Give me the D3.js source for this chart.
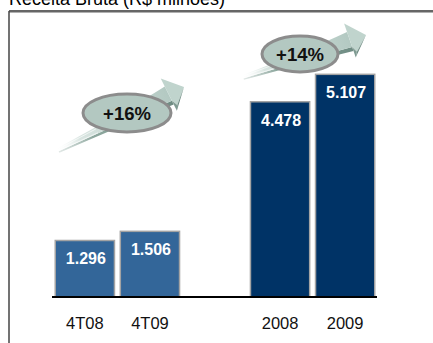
<!DOCTYPE html>
<html>
<head>
<meta charset="utf-8">
<script src="https://cdn.jsdelivr.net/npm/d3@7"></script>
<style>
  html, body { margin: 0; padding: 0; background: #fff; }
  svg { display: block; }
</style>
</head>
<body>
<svg id="chart" width="433" height="343"></svg>
<script>
// Receita Bruta (R$ milhões) — quarterly and yearly comparison
const categories = ["4T08", "4T09", "2008", "2009"];
const values = [1.296, 1.506, 4.478, 5.107];
const valueLabels = ["1.296", "1.506", "4.478", "5.107"];
const groups = ["quarter", "quarter", "year", "year"];
const growthLabels = ["+16%", "+14%"];

const W = 433, H = 343;
const svg = d3.select("#chart");
const defs = svg.append("defs");

// Slot layout: an empty slot separates the quarter pair from the year pair
const slots = ["4T08", "4T09", "_gap", "2008", "2009"];
const x = d3.scaleBand().domain(slots).range([52, 378]).paddingInner(0.09).paddingOuter(0.05);
const baseY = 297;
const y = d3.scaleLinear().domain([0, 6]).range([baseY, baseY - 6 * 43.6]);

const fillFor = { quarter: "#336699", year: "#003366" };

// Title (partially above the frame)
svg.append("text")
  .attr("x", 9).attr("y", 5)
  .attr("font-family", "Arial, 'Liberation Sans', sans-serif")
  .attr("font-size", 18)
  .attr("fill", "#000")
  .text("Receita Bruta (R$ milhões)");

// Frame: top and left edges
svg.append("line").attr("x1", 9).attr("x2", W).attr("y1", 12.5).attr("y2", 12.5)
  .attr("stroke", "#b0b0b0").attr("stroke-width", 1);
svg.append("line").attr("x1", 9).attr("x2", W).attr("y1", 11).attr("y2", 11)
  .attr("stroke", "#333").attr("stroke-width", 1.5);
svg.append("line").attr("x1", 9).attr("x2", 9).attr("y1", 11).attr("y2", H)
  .attr("stroke", "#444").attr("stroke-width", 1.5);

// Bars
const data = categories.map((c, i) => ({ c, v: values[i], label: valueLabels[i], g: groups[i] }));
svg.append("g").selectAll("rect").data(data).join("rect")
  .attr("x", d => x(d.c))
  .attr("y", d => y(d.v))
  .attr("width", x.bandwidth())
  .attr("height", d => baseY - y(d.v))
  .attr("fill", d => fillFor[d.g])
  .attr("stroke", "#a3a3a3")
  .attr("stroke-width", 1.5);

// Value labels inside bars
svg.append("g").selectAll("text").data(data).join("text")
  .attr("x", d => x(d.c) + x.bandwidth() / 2 + 1)
  .attr("y", d => y(d.v) + 24)
  .attr("text-anchor", "middle")
  .attr("font-family", "Arial, 'Liberation Sans', sans-serif")
  .attr("font-weight", "bold")
  .attr("font-size", 16)
  .attr("fill", "#fff")
  .text(d => d.label);

// Baseline
svg.append("line").attr("x1", 52).attr("x2", 377).attr("y1", baseY).attr("y2", baseY)
  .attr("stroke", "#000").attr("stroke-width", 2);

// Category labels
svg.append("g").selectAll("text").data(data).join("text")
  .attr("x", d => x(d.c) + x.bandwidth() / 2)
  .attr("y", 329)
  .attr("text-anchor", "middle")
  .attr("font-family", "Arial, 'Liberation Sans', sans-serif")
  .attr("font-size", 16.5)
  .attr("fill", "#111")
  .text(d => d.c);

// Growth arrows
const shaftGrad = defs.append("linearGradient").attr("id", "shaft")
  .attr("x1", 0).attr("x2", 1).attr("y1", 0).attr("y2", 0);
shaftGrad.append("stop").attr("offset", 0).attr("stop-color", "#ffffff").attr("stop-opacity", 0.2);
shaftGrad.append("stop").attr("offset", 0.2).attr("stop-color", "#d9e5e1");
shaftGrad.append("stop").attr("offset", 1).attr("stop-color", "#b3c9c2");

const shadeGrad = defs.append("linearGradient").attr("id", "shade")
  .attr("x1", 0).attr("x2", 1).attr("y1", 0).attr("y2", 0);
shadeGrad.append("stop").attr("offset", 0).attr("stop-color", "#9fb5ae").attr("stop-opacity", 0.3);
shadeGrad.append("stop").attr("offset", 0.3).attr("stop-color", "#8ea89f");
shadeGrad.append("stop").attr("offset", 1).attr("stop-color", "#6f8c83");

function drawArrow(tail, tip) {
  const dx = tip[0] - tail[0], dy = tip[1] - tail[1];
  const L = Math.hypot(dx, dy);
  const ang = Math.atan2(dy, dx) * 180 / Math.PI;
  const hl = 17, hw = 18, nk = L - hl;
  const g = svg.append("g").attr("transform", `translate(${tail[0]},${tail[1]}) rotate(${ang})`);
  // lower shaded edge
  g.append("path")
    .attr("d", `M0,1.5 Q${nk * 0.6},4 ${nk},7 L${nk},11 Q${nk * 0.6},7 0,3 Z`)
    .attr("fill", "url(#shade)");
  // shaft
  g.append("path")
    .attr("d", `M0,-2 Q${nk * 0.6},-4 ${nk},-9 L${nk},7 Q${nk * 0.6},4 0,1.5 Z`)
    .attr("fill", "url(#shaft)");
  // streaks near the tail
  [-0.8, 1].forEach(o => {
    g.append("line").attr("x1", 0).attr("y1", o).attr("x2", nk * 0.35).attr("y2", o * 2.4)
      .attr("stroke", "#ffffff").attr("stroke-width", 0.7).attr("stroke-opacity", 0.8);
  });
  // head: light face and dark edge faces
  g.append("path")
    .attr("d", `M${nk},${-hw} L${L},0 L${nk + 3},${hw - 5} L${nk},7 L${nk},-9 Z`)
    .attr("fill", "#c0d4cd");
  g.append("path")
    .attr("d", `M${L},0 L${nk},${hw} L${nk + 3},${hw - 5} Z`)
    .attr("fill", "#6d8a81");
  g.append("path")
    .attr("d", `M${nk},7 L${nk + 3},${hw - 5} L${nk},${hw} Z`)
    .attr("fill", "#7f9b92");
}

drawArrow([58, 150], [184, 87]);
drawArrow([243, 77], [366, 35]);

// Growth ellipses
const bubbles = [
  { cx: 127, cy: 113, rx: 44, ry: 19, label: growthLabels[0] },
  { cx: 300, cy: 54, rx: 38, ry: 18, label: growthLabels[1] }
];
const bg = svg.append("g").selectAll("g").data(bubbles).join("g");
bg.append("ellipse")
  .attr("cx", d => d.cx).attr("cy", d => d.cy)
  .attr("rx", d => d.rx).attr("ry", d => d.ry)
  .attr("fill", "#b3c8c1")
  .attr("stroke", "#8c8c8c")
  .attr("stroke-width", 3);
bg.append("text")
  .attr("x", d => d.cx).attr("y", d => d.cy + 6.5)
  .attr("text-anchor", "middle")
  .attr("font-family", "Arial, 'Liberation Sans', sans-serif")
  .attr("font-weight", "bold")
  .attr("font-size", 18.5)
  .attr("fill", "#111")
  .text(d => d.label);
</script>
</body>
</html>
